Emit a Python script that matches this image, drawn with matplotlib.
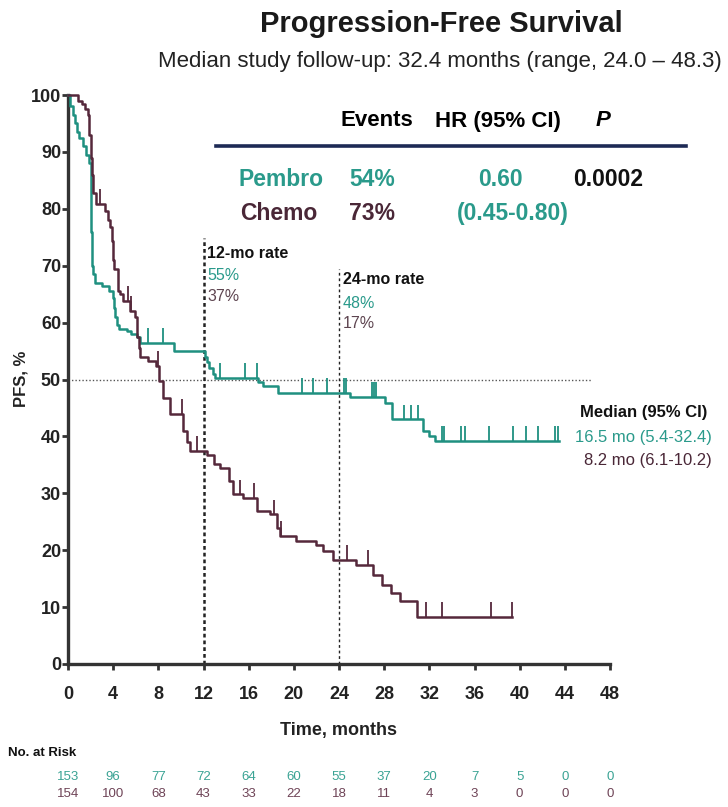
import numpy as np
import matplotlib
matplotlib.use("Agg")
import matplotlib.pyplot as plt
from matplotlib import font_manager
from matplotlib.lines import Line2D

# fonts: narrow face for axis text if it is installed
names = {f.name for f in font_manager.fontManager.ttflist}
NARROW = "Liberation Sans Narrow" if "Liberation Sans Narrow" in names else "Liberation Sans"
plt.rcParams["font.family"] = ["Liberation Sans", "DejaVu Sans"]

TEAL = "#1f9080"
TEAL_TXT = "#2a9a8b"
PLUM = "#55283b"
PLUM_TXT = "#4a2737"

# Kaplan-Meier steps (month, PFS % after the step)
pem_t = [0, 0.2, 0.4, 0.6, 0.8, 1.0, 1.3, 1.6, 1.9, 2.0, 2.05, 2.1, 2.2, 2.4, 3.0,
         3.6, 4.0, 4.1, 4.2, 4.35, 4.5, 5.2, 5.6, 6.1, 6.4, 9.4, 12.1, 12.3, 12.5,
         12.8, 13.0, 16.8, 17.3, 18.6, 25.0, 28.1, 28.7, 31.4, 32.0, 32.5, 43.5]
pem_s = [100, 98, 96.5, 95, 93.5, 92.5, 91, 89.5, 88, 82, 76, 70, 68.5, 67, 66.5,
         65.5, 64.4, 62.5, 61, 59.5, 58.9, 58.5, 58, 57.5, 56.5, 55, 54, 53, 52,
         51, 50.3, 49.6, 48.9, 47.7, 46.9, 45.8, 43.0, 41.0, 40.0, 39.2, 39.2]
pem_cens = [7.1, 8.4, 13.5, 15.7, 16.7, 20.7, 21.7, 22.9, 24.4, 24.6, 26.9, 27.1,
            27.3, 29.8, 30.4, 31.0, 33.1, 33.3, 34.8, 35.2, 37.3, 39.4, 40.6, 41.6,
            43.1, 43.4]

chemo_t = [0, 0.9, 1.2, 1.5, 1.8, 1.9, 2.0, 2.1, 2.25, 2.5, 3.3, 3.5, 3.7, 3.9, 4.0,
           4.1, 4.45, 4.6, 4.9, 5.5, 5.9, 6.1, 6.25, 6.4, 7.1, 7.8, 8.1, 8.4, 9.0,
           10.2, 10.5, 10.8, 12.3, 12.9, 13.5, 14.3, 14.6, 15.5, 16.7, 17.9, 18.5,
           18.8, 20.2, 22.0, 22.6, 23.5, 25.5, 27.0, 27.8, 28.6, 29.4, 30.9, 39.3]
chemo_s = [100, 99, 98.5, 97.5, 96.5, 93, 89, 86, 82.7, 80.9, 79.7, 78, 76.8, 74.4, 71,
           69.5, 65.6, 65, 63.8, 62.1, 60.9, 57.4, 55.5, 53.9, 53.2, 52.4, 49.7, 46.8,
           43.9, 40.9, 39, 37.4, 36.8, 35.1, 34.5, 32.1, 29.8, 29.2, 26.9, 26.3, 23.9,
           22.5, 21.6, 21.0, 19.8, 18.3, 17.4, 15.7, 13.9, 12.5, 11.1, 8.3, 8.3]
chemo_cens = [2.8, 5.3, 5.6, 8.0, 10.1, 11.4, 15.2, 16.5, 18.2, 18.9, 24.7, 26.6,
              31.7, 33.1, 37.5, 39.3]

months = list(range(0, 49, 4))
risk_pem = [153, 96, 77, 72, 64, 60, 55, 37, 20, 7, 5, 0, 0]
risk_chemo = [154, 100, 68, 43, 33, 22, 18, 11, 4, 3, 0, 0, 0]

W, H = 728, 807
fig = plt.figure(figsize=(W / 100, H / 100), dpi=100)


def fx(px):
    return px / W


def fy(py):
    return 1 - py / H


ax = fig.add_axes([fx(68), fy(664), fx(610) - fx(68), fy(95) - fy(664)])
ax.set_xlim(0, 48)
ax.set_ylim(0, 100)


def km(t, s, cens, color):
    ax.step(t, s, where="post", color=color, lw=1.8, clip_on=False, zorder=3)
    # censor marks sit on top of the curve
    idx = np.searchsorted(t, cens, side="right") - 1
    ys = np.array(s)[idx]
    ax.vlines(cens, ys, ys + 2.6, color=color, lw=1.3, zorder=3)


km(pem_t, pem_s, pem_cens, TEAL)
km(chemo_t, chemo_s, chemo_cens, PLUM)

# reference lines
ax.plot([0, 46.3], [50, 50], ls=(0, (1, 1.5)), color="#555555", lw=1.0, zorder=2)
ax.plot([12, 12], [0, 74.8], ls=(0, (1.5, 1.2)), color="#222222", lw=1.8, zorder=2)
ax.plot([24, 24], [0, 69.5], ls=(0, (2, 2)), color="#222222", lw=1.0, zorder=2)

for side in ["top", "right"]:
    ax.spines[side].set_visible(False)
for side in ["left", "bottom"]:
    ax.spines[side].set_linewidth(2.4)
    ax.spines[side].set_color("#333333")

ax.set_xticks(months)
ax.set_yticks(range(0, 101, 10))
ax.tick_params(axis="both", length=4, width=2, color="#333333", labelsize=13,
               labelcolor="#222222")
ax.tick_params(axis="x", pad=12)
ax.tick_params(axis="y", pad=1)
for lab in ax.get_xticklabels() + ax.get_yticklabels():
    lab.set_fontfamily(NARROW)
    lab.set_fontweight("bold")

fig.text(fx(21), fy(379), "PFS, %", rotation=90, ha="center", va="center",
         fontsize=12, fontweight="bold", family=NARROW, color="#222222")
fig.text(fx(339), fy(731), "Time, months", ha="center", va="center",
         fontsize=13, fontweight="bold", family=NARROW, color="#222222")

# title block
fig.text(fx(441), fy(24), "Progression-Free Survival", ha="center", va="center",
         fontsize=21, fontweight="bold", color="#1a1a1a")
fig.text(fx(440), fy(62), "Median study follow-up: 32.4 months (range, 24.0 \u2013 48.3)",
         ha="center", va="center", fontsize=16, family=NARROW, color="#222222")

# events / HR table
hy = fy(121)
fig.text(fx(377), hy, "Events", ha="center", va="center", fontsize=16, fontweight="bold")
fig.text(fx(498), hy, "HR (95% CI)", ha="center", va="center", fontsize=16, fontweight="bold")
fig.text(fx(603), hy, "P", ha="center", va="center", fontsize=16, fontweight="bold",
         style="italic")
fig.add_artist(Line2D([fx(216), fx(686)], [fy(146), fy(146)], color="#1d2a55", lw=2.6))

r1, r2 = fy(180), fy(213)
fs = 16.5
fig.text(fx(238), r1, "Pembro", ha="left", va="center", fontsize=fs, fontweight="bold", color=TEAL_TXT)
fig.text(fx(349), r1, "54%", ha="left", va="center", fontsize=fs, fontweight="bold", color=TEAL_TXT)
fig.text(fx(500), r1, "0.60", ha="center", va="center", fontsize=fs, fontweight="bold", color=TEAL_TXT)
fig.text(fx(573), r1, "0.0002", ha="left", va="center", fontsize=fs, fontweight="bold", color="#111111")
fig.text(fx(240), r2, "Chemo", ha="left", va="center", fontsize=fs, fontweight="bold", color=PLUM_TXT)
fig.text(fx(349), r2, "73%", ha="left", va="center", fontsize=fs, fontweight="bold", color=PLUM_TXT)
fig.text(fx(513), r2, "(0.45-0.80)", ha="center", va="center", fontsize=fs, fontweight="bold", color=TEAL_TXT)

# landmark rates
fig.text(fx(207), fy(253), "12-mo rate", ha="left", va="center", fontsize=11.5,
         fontweight="bold", family=NARROW, color="#111111")
fig.text(fx(207), fy(276), "55%", ha="left", va="center", fontsize=11.5, family=NARROW, color=TEAL_TXT)
fig.text(fx(207), fy(297), "37%", ha="left", va="center", fontsize=11.5, family=NARROW, color="#5e4550")
fig.text(fx(343), fy(280), "24-mo rate", ha="left", va="center", fontsize=11.5,
         fontweight="bold", family=NARROW, color="#111111")
fig.text(fx(343), fy(303), "48%", ha="left", va="center", fontsize=11.5, family=NARROW, color=TEAL_TXT)
fig.text(fx(343), fy(324), "17%", ha="left", va="center", fontsize=11.5, family=NARROW, color="#5e4550")

# medians
fig.text(fx(707), fy(412), "Median (95% CI)", ha="right", va="center", fontsize=12,
         fontweight="bold", family=NARROW, color="#111111")
fig.text(fx(712), fy(437), "16.5 mo (5.4-32.4)", ha="right", va="center", fontsize=12,
         family=NARROW, color=TEAL_TXT)
fig.text(fx(712), fy(460), "8.2 mo (6.1-10.2)", ha="right", va="center", fontsize=12,
         family=NARROW, color=PLUM_TXT)

# number at risk
fig.text(fx(8), fy(753), "No. at Risk", ha="left", va="center", fontsize=9.5,
         fontweight="bold", family=NARROW, color="#111111")
tr = ax.get_xaxis_transform()
for m, a, b in zip(months, risk_pem, risk_chemo):
    ax.text(m, (664 - 777) / (664 - 95), str(a), transform=tr,
            ha="center", va="center", fontsize=9.5, family=NARROW, color="#3aa394", clip_on=False)
    ax.text(m, (664 - 794) / (664 - 95), str(b), transform=tr,
            ha="center", va="center", fontsize=9.5, family=NARROW, color="#6e4356", clip_on=False)

fig.savefig("out.png", dpi=100)
